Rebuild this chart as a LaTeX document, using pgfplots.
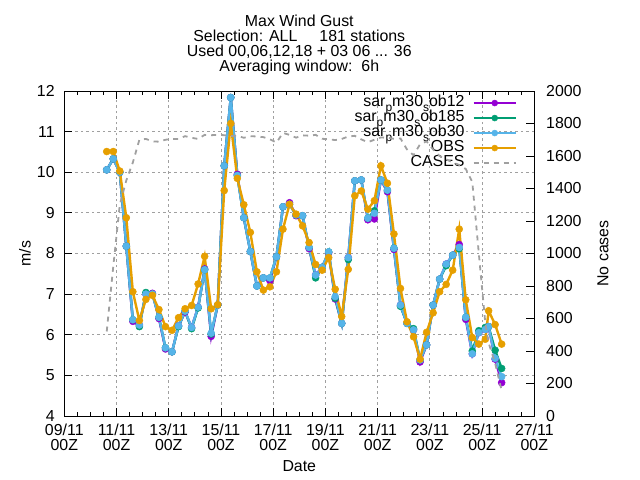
\documentclass[border=0pt]{standalone}
\usepackage{fontspec}
\setmainfont{Liberation Sans}
\usepackage{pgfplots}
\usepackage{pgfplotstable}
\pgfplotsset{compat=1.18}
\definecolor{cpurple}{RGB}{148,0,211}
\definecolor{cgreen}{RGB}{0,158,115}
\definecolor{cblue}{RGB}{86,180,233}
\definecolor{corange}{RGB}{230,159,0}
\definecolor{cgray}{RGB}{160,160,160}
\newcommand\fs{\fontsize{15.9bp}{15bp}\selectfont}
\newcommand\sub[1]{\raisebox{-5bp}{\fontsize{12bp}{12bp}\selectfont #1}}

\pgfplotstableread{
t p12 p185 p30 obs cases
1.625 10.06 10.06 10.06 10.51 520
1.875 10.33 10.33 10.33 10.51 920
2.125 10.00 10.00 10.00 10.03 1300
2.375 8.18 8.18 8.18 8.88 1450
2.625 6.33 6.37 6.37 7.06 1560
2.875 6.24 6.20 6.24 6.35 1700
3.125 7.00 7.04 7.00 6.87 1705
3.375 7.02 7.00 7.00 6.97 1690
3.625 6.40 6.43 6.43 6.62 1688
3.875 5.65 5.68 5.68 6.20 1700
4.125 5.58 5.58 5.58 6.11 1705
4.375 6.22 6.20 6.22 6.42 1705
4.625 6.56 6.58 6.58 6.64 1722
4.875 6.18 6.15 6.18 6.72 1712
5.125 6.68 6.66 6.68 7.25 1705
5.375 7.62 7.60 7.60 7.93 1730
5.625 5.96 6.02 6.04 6.64 1728
5.875 6.73 6.73 6.73 6.74 1730
6.125 10.16 10.16 10.16 9.55 1728
6.375 11.84 11.84 11.84 11.20 1722
6.625 9.95 9.92 9.92 9.85 1725
6.875 8.88 8.88 8.88 9.20 1712
7.125 8.05 8.05 8.05 8.52 1722
7.375 7.20 7.20 7.20 7.55 1720
7.625 7.40 7.40 7.40 7.10 1716
7.875 7.33 7.40 7.40 7.18 1703
8.125 7.92 7.92 7.92 7.55 1683
8.375 9.15 9.15 9.15 8.60 1742
8.625 9.25 9.21 9.21 9.21 1730
8.875 8.93 8.95 8.95 8.97 1713
9.125 8.93 8.93 8.93 8.68 1727
9.375 8.12 8.15 8.15 8.27 1725
9.625 7.47 7.40 7.47 7.73 1730
9.875 7.66 7.66 7.66 7.59 1706
10.125 8.02 8.04 8.04 7.90 1703
10.375 6.88 6.90 6.94 7.12 1698
10.625 6.28 6.28 6.28 6.45 1705
10.875 7.90 7.85 7.90 7.61 1720
11.125 9.79 9.79 9.79 9.42 1724
11.375 9.81 9.81 9.81 9.54 1702
11.625 8.83 8.87 8.87 9.09 1685
11.875 8.85 9.05 8.99 9.30 1700
12.125 9.81 9.81 9.81 10.16 1714
12.375 9.52 9.56 9.56 9.73 1712
12.625 8.10 8.13 8.13 8.48 1706
12.875 6.73 6.70 6.73 7.14 1708
13.125 6.28 6.28 6.28 6.32 1640
13.375 6.12 6.15 6.12 5.95 1605
13.625 5.33 5.38 5.38 5.40 1672
13.875 5.75 5.75 5.75 6.06 1690
14.125 6.73 6.73 6.73 6.54 1640
14.375 7.37 7.37 7.37 7.06 1600
14.625 7.74 7.70 7.74 7.24 1580
14.875 7.96 7.96 7.96 7.59 1560
15.125 8.22 8.12 8.15 8.60 1545
15.375 6.38 6.43 6.43 6.86 1520
15.625 5.53 5.60 5.53 5.93 1440
15.875 6.05 6.10 6.05 5.77 1000
16.125 6.13 6.18 6.13 5.89 570
16.25 6.20 6.20 6.20 6.59 450
16.5 5.40 5.62 5.42 6.25 325
16.75 4.82 5.17 4.97 5.77 155
}\data

\begin{document}
\begin{tikzpicture}[font=\fs]
\path[use as bounding box] (0,0) rectangle (640bp,480bp);
\node[anchor=base] at (299.3bp,453.3bp) {Max Wind Gust};
\node[anchor=base] at (299.3bp,438.3bp) {Selection: ALL\ \ \ \ \ 181 stations};
\node[anchor=base] at (299.3bp,423.3bp) {Used 00,06,12,18 + 03 06 ... 36};
\node[anchor=base] at (299.3bp,408.3bp) {Averaging window:\ \ 6h};
\begin{axis}[
  at={(64.3bp,64bp)}, anchor=south west,
  width=470bp, height=325bp, scale only axis,
  xmin=0, xmax=18, ymin=4, ymax=12,
  xtick={0,2,...,18}, minor x tick num=3,
  xticklabels={{09/11\\00Z},{11/11\\00Z},{13/11\\00Z},{15/11\\00Z},{17/11\\00Z},{19/11\\00Z},{21/11\\00Z},{23/11\\00Z},{25/11\\00Z},{27/11\\00Z}},
  ytick={4,5,...,12},
  ytick pos=left, xtick pos=both,
  tick align=inside,
  major tick length=8bp, minor tick length=4bp,
  tick style={black, line width=0.8bp},
  axis line style={black, line width=1bp},
  grid=major,
  major grid style={cgray, line width=0.9bp, dash pattern=on 2.5bp off 3bp},
  tick label style={font=\fs, inner sep=0pt},
  xticklabel style={align=center, yshift=-7.4bp},
  yticklabel style={xshift=-9.5bp},
  /pgf/number format/assume math mode=true,
  xlabel={Date}, ylabel={m/s},
  every axis x label/.style={at={(axis description cs:0.5,0)}, anchor=base, yshift=-55bp},
  every axis y label/.style={at={(axis description cs:-0.0836,0.5)}, rotate=90, anchor=center},
  legend plot pos=right,
  legend cell align=right,
  legend style={at={(axis description cs:0.963,0.986)}, anchor=north east, draw=none, fill=none, inner sep=0pt, outer sep=0pt, row sep=0bp, column sep=8bp, font=\fs, nodes={inner sep=0pt, text height=11bp, text depth=4bp}},
  legend image code/.code={\draw[mark repeat=2,mark phase=2,#1] plot coordinates {(0bp,0bp) (21bp,0bp) (42bp,0bp)};},
  legend image post style={mark size=3bp},
]
\addplot[cpurple, line width=2.4bp, mark=*, mark size=3.5bp, mark options={solid, line width=0.5bp}] table[x=t,y=p12]{\data};
\addlegendentry{sar\sub{p}m30\sub{s}ob12}
\addplot[cgreen, line width=2.4bp, mark=*, mark size=3.5bp, mark options={solid, line width=0.5bp}] table[x=t,y=p185]{\data};
\addlegendentry{sar\sub{p}m30\sub{s}ob185}
\addplot[cblue, line width=2.4bp, mark=*, mark size=3.5bp, mark options={solid, line width=0.5bp}] table[x=t,y=p30]{\data};
\addlegendentry{sar\sub{p}m30\sub{s}ob30}
\addplot[corange, line width=2.4bp, mark=*, mark size=3.5bp, mark options={solid, line width=0.5bp}] table[x=t,y=obs]{\data};
\addlegendentry{OBS}
\addlegendimage{cgray, line width=1.8bp, dash pattern=on 5bp off 5bp}
\addlegendentry{CASES}
\end{axis}
\begin{axis}[
  at={(64.3bp,64bp)}, anchor=south west,
  width=470bp, height=325bp, scale only axis,
  xmin=0, xmax=18, ymin=0, ymax=2000,
  axis x line=none, axis y line*=right,
  ytick={0,200,...,2000},
  yticklabels={0,200,400,600,800,1000,1200,1400,1600,1800,2000},
  tick align=inside, major tick length=8bp,
  tick style={black, line width=0.8bp},
  axis line style={black, line width=1bp},
  yticklabel style={font=\fs, inner sep=0pt, xshift=11.7bp},
  ylabel={No cases},
  every axis y label/.style={at={(axis description cs:1.146,0.5)}, rotate=90, anchor=center},
]
\addplot[cgray, line width=1.8bp, dash pattern=on 5bp off 5bp] table[x=t,y=cases]{\data};
\end{axis}
\end{tikzpicture}
\end{document}
